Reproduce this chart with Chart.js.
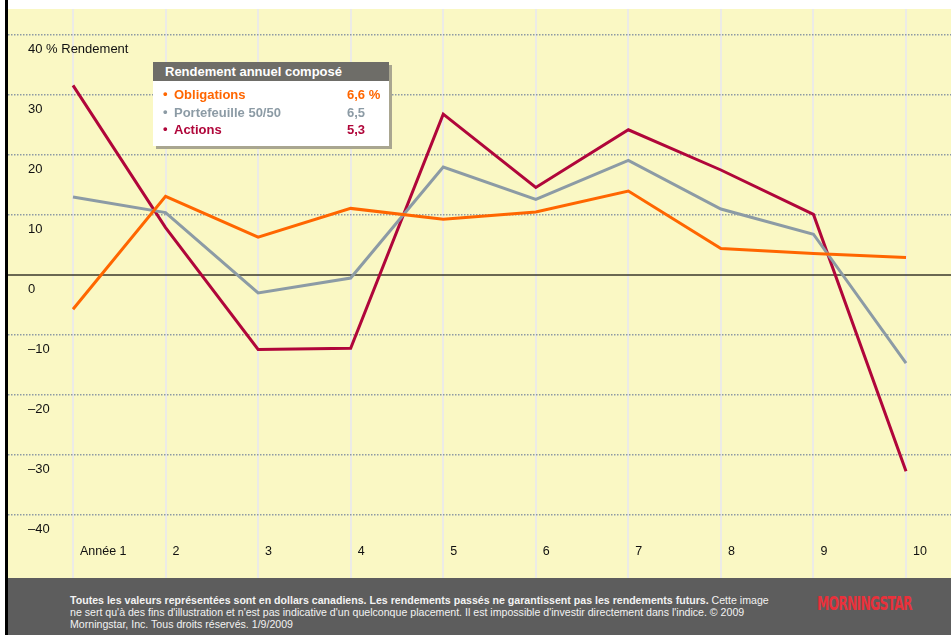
<!DOCTYPE html>
<html lang="fr">
<head>
<meta charset="utf-8">
<script src="https://cdn.jsdelivr.net/npm/chart.js@4.4.1/dist/chart.umd.min.js"></script>
<style>
  html, body { margin: 0; padding: 0; background: #fff; }
  body { width: 951px; height: 635px; position: relative; overflow: hidden;
         font-family: "Liberation Sans", Arial, sans-serif; }
  #chart { position: absolute; left: 0; top: 0; }
  #bar { position: absolute; left: 5px; top: 0; width: 3px; height: 635px; background: #000; }
  #legend { position: absolute; left: 153px; top: 62px; width: 236px; height: 84px;
            background: #fff; box-shadow: 3px 3px 0 #a9a690; }
  #legend .head { height: 19px; line-height: 19px; background: #6e6d68; color: #fff;
                  font-weight: bold; font-size: 13px; padding-left: 12px; }
  #legend .rows { padding-top: 5px; }
  #legend .row { position: relative; height: 17.5px; line-height: 17.5px; font-weight: bold; font-size: 13px; }
  #legend .row .dot { position: absolute; left: 10px; top: -1px; }
  #legend .row .name { position: absolute; left: 21px; }
  #legend .row .val { position: absolute; left: 194px; }
  #footer { position: absolute; left: 8px; top: 578px; width: 943px; height: 57px; background: #5d5d5d; }
  #footer .txt { position: absolute; left: 62px; top: 16px; color: #f2f2f2; font-size: 10.6px; line-height: 12px; white-space: nowrap; }
  #footer .logo { position: absolute; left: 809px; top: 14px; height: 22px; color: #e8313b;
                  font-family: "DejaVu Sans Condensed", "Liberation Sans Narrow", sans-serif; font-weight: bold;
                  font-size: 19px; line-height: 22px; letter-spacing: -1px; white-space: nowrap;
                  transform: scaleX(0.72); transform-origin: left center; }
</style>
</head>
<body>
<canvas id="chart" width="951" height="578"></canvas>
<div id="bar"></div>
<div id="legend">
  <div class="head">Rendement annuel composé</div>
  <div class="rows">
    <div class="row" style="color:#ff6600"><span class="dot">•</span><span class="name">Obligations</span><span class="val">6,6 %</span></div>
    <div class="row" style="color:#8c9ba5"><span class="dot">•</span><span class="name">Portefeuille 50/50</span><span class="val">6,5</span></div>
    <div class="row" style="color:#b0063a"><span class="dot">•</span><span class="name">Actions</span><span class="val">5,3</span></div>
  </div>
</div>
<div id="footer">
  <div class="txt"><b>Toutes les valeurs représentées sont en dollars canadiens. Les rendements passés ne garantissent pas les rendements futurs.</b> Cette image<br>ne sert qu'à des fins d'illustration et n'est pas indicative d'un quelconque placement. Il est impossible d'investir directement dans l'indice. © 2009<br>Morningstar, Inc. Tous droits réservés. 1/9/2009</div>
  <div class="logo">MORNINGSTAR</div>
</div>
<script>
// years on the x axis and their tick labels
const years = [1, 2, 3, 4, 5, 6, 7, 8, 9, 10];
const xLabels = ['Année 1', '2', '3', '4', '5', '6', '7', '8', '9', '10'];

// y gridlines and their labels
const yTicks = [40, 30, 20, 10, 0, -10, -20, -30, -40];
const yLabels = ['40 % Rendement', '30', '20', '10', '0', '–10', '–20', '–30', '–40'];

// annual returns (%)
const obligations = [-5.7, 13.1, 6.3, 11.1, 9.3, 10.5, 14.0, 4.4, 3.6, 2.9];
const portefeuille = [13.0, 10.4, -3.0, -0.5, 18.0, 12.6, 19.1, 11.0, 6.8, -14.7];
const actions = [31.6, 7.9, -12.4, -12.2, 26.8, 14.6, 24.2, 17.5, 10.1, -32.7];

const pts = (vals) => years.map((x, i) => ({ x: x, y: vals[i] }));

Chart.defaults.font.family = '"Liberation Sans", Arial, sans-serif';

// yellow plot background + solid zero line
const bgPlugin = {
  id: 'bg',
  beforeDraw(chart) {
    const { ctx, chartArea: a } = chart;
    ctx.save();
    ctx.fillStyle = '#faf8c4';
    ctx.fillRect(a.left, a.top, a.right - a.left, a.bottom - a.top);
    ctx.restore();
  },
  beforeDatasetsDraw(chart) {
    const { ctx, chartArea: a, scales } = chart;
    const y0 = scales.y.getPixelForValue(0);
    ctx.save();
    ctx.strokeStyle = '#3a392c';
    ctx.lineWidth = 1.5;
    ctx.beginPath();
    ctx.moveTo(a.left, y0);
    ctx.lineTo(a.right, y0);
    ctx.stroke();
    ctx.restore();
  }
};

new Chart(document.getElementById('chart'), {
  type: 'line',
  plugins: [bgPlugin],
  data: {
    datasets: [
      { label: 'Obligations', data: pts(obligations), borderColor: '#ff6600' },
      { label: 'Portefeuille 50/50', data: pts(portefeuille), borderColor: '#8c9ba5' },
      { label: 'Actions', data: pts(actions), borderColor: '#b0063a' }
    ]
  },
  options: {
    responsive: false,
    animation: false,
    layout: { autoPadding: false, padding: { left: 8, top: 9, right: 0, bottom: 0 } },
    elements: {
      line: { borderWidth: 3, tension: 0, fill: false },
      point: { radius: 0 }
    },
    plugins: { legend: { display: false }, tooltip: { enabled: false } },
    scales: {
      x: {
        type: 'linear',
        position: { y: -44.8 },
        min: 0.2977,
        max: 10.486,
        afterBuildTicks(scale) { scale.ticks = years.map(v => ({ value: v })); },
        afterFit(scale) { scale.paddingLeft = 0; scale.paddingRight = 0; },
        grid: { color: '#ecebe6', lineWidth: 2, drawTicks: false },
        border: { display: false },
        ticks: {
          autoSkip: false, maxRotation: 0, align: 'start', labelOffset: 7, padding: 0,
          color: '#111', font: { size: 12.5 },
          callback: (v, i) => xLabels[i]
        }
      },
      y: {
        position: 'left',
        min: -50.5,
        max: 44.333,
        afterBuildTicks(scale) { scale.ticks = yTicks.map(v => ({ value: v })); },
        afterFit(scale) { scale.width = 0; scale.paddingTop = 0; scale.paddingBottom = 0; },
        grid: {
          color: (ctx) => ctx.tick && ctx.tick.value === 0 ? 'rgba(0,0,0,0)' : '#8d9aa4',
          lineWidth: 1.5, drawTicks: false
        },
        border: { display: false, dash: [1.5, 1.5] },
        ticks: {
          mirror: true, padding: 20, labelOffset: 14,
          color: '#111', font: { size: 13 },
          callback: (v, i) => yLabels[i]
        }
      }
    }
  }
});
</script>
</body>
</html>
